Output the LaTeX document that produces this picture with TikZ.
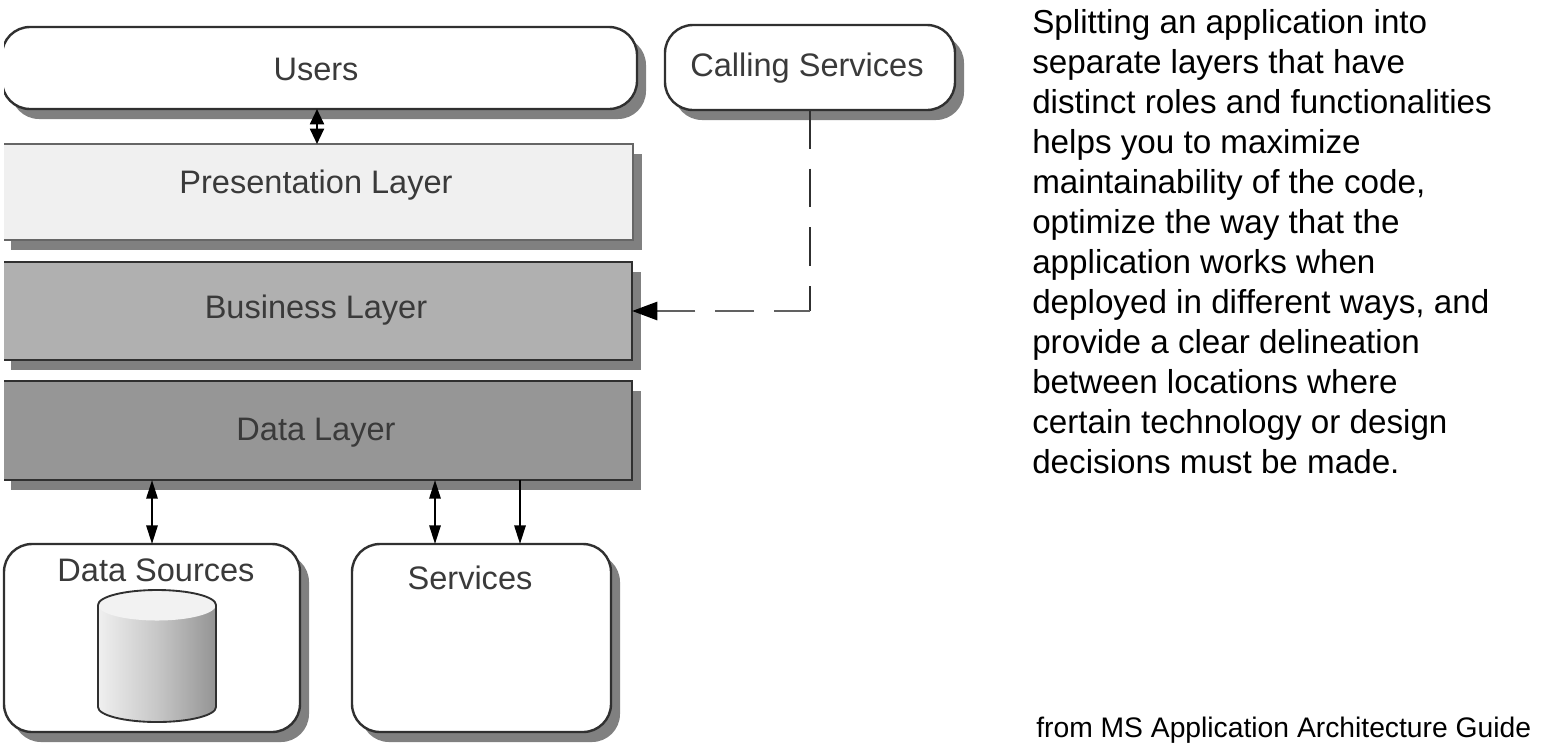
\documentclass[tikz,border=0pt]{standalone}
\usepackage{fontspec}
\setmainfont{Liberation Sans}
\usetikzlibrary{shadows,arrows.meta,calc}
\definecolor{txtgray}{HTML}{3A3A3A}
\definecolor{linedark}{HTML}{303030}
\definecolor{shadowgray}{HTML}{808080}
\tikzset{
  x=0.75pt,y=-0.75pt,
  base/.style={draw=linedark,line width=1.8pt,outer sep=0pt,inner sep=0pt,
    copy shadow={shadow xshift=6.75pt,shadow yshift=-7.5pt,fill=shadowgray,draw=none}},
  roundbox/.style={base,fill=white,rounded corners=21pt},
  layerbox/.style={base},
  label/.style={text=txtgray,font=\fontsize{24.4}{28}\selectfont,inner sep=0pt,anchor=center},
  link/.style={draw=black,line width=1.5pt,{Triangle[length=14pt,width=8.5pt]}-{Triangle[length=14pt,width=8.5pt]}},
  oneway/.style={draw=black,line width=1.5pt,-{Triangle[length=14pt,width=8.5pt]}},
  dashline/.style={draw=linedark,line width=1.8pt,dash pattern=on 29pt off 15pt},
  bodytext/.style={font=\fontsize{24.9}{30}\selectfont,align=left,anchor=north west,inner sep=0pt,text=black},
}
\newcommand{\boxat}[7]{\node[#2,minimum width=#5*0.75pt-#3*0.75pt,minimum height=#6*0.75pt-#4*0.75pt,#7] (#1) at ({(#3+#5)/2},{(#4+#6)/2}) {};}
\begin{document}
\begin{tikzpicture}
\useasboundingbox (0,0) rectangle (1549,744);
\fill[white] (0,0) rectangle (1549,744);
\begin{scope}
\clip (4,0) rectangle (1549,744);
\boxat{users}{roundbox}{2}{27}{637}{109}{}
\boxat{calling}{roundbox}{665}{25}{955}{110}{}
\boxat{pres}{layerbox}{2}{144}{633}{240}{fill=black!6,draw=black!60}
\boxat{bus}{layerbox}{2}{262}{632}{360}{fill=black!31}
\boxat{data}{layerbox}{2}{381}{632}{480}{fill=black!41}
\end{scope}
\boxat{srcs}{roundbox}{4}{544}{300}{732}{}
\boxat{svc}{roundbox}{352}{544}{611}{732}{}
% cylinder
\path[left color=black!6,right color=black!42,middle color=black!22]
  (98,605) -- (98,707) arc[start angle=180,end angle=0,x radius=59,y radius=15] -- (216,605) -- cycle;
\fill[black!5] (157,605) ellipse[x radius=59,y radius=15.5];
\draw[linedark,line width=1.4pt]
  (98,605) -- (98,707) arc[start angle=180,end angle=0,x radius=59,y radius=15] -- (216,605)
  arc[start angle=0,end angle=-180,x radius=59,y radius=15];
% labels
\node[label] (lusers) at (316,69) {Users};
\node[label] (lcalling) at (807,68) {Calling Services};
\node[label] (lpres) at (316,185) {Presentation Layer};
\node[label] (lbus) at (316,310) {Business Layer};
\node[label] (ldata) at (316,433) {Data Layer};
\node[label] (lsrcs) at (156,570) {Data Sources};
\node[label] (lsvc) at (470,578) {Services};
% connectors
\draw[link,{Triangle[length=11.5pt,width=10.5pt]}-{Triangle[length=11.5pt,width=10.5pt]}] (317,0 |- users.south) -- (317,0 |- pres.north);
\draw[link] (152,0 |- data.south) -- (152,0 |- srcs.north);
\draw[link] (435,0 |- data.south) -- (435,0 |- svc.north);
\draw[oneway] (520,0 |- data.south) -- (520,0 |- svc.north);
\coordinate (corner) at (810,311);
\draw[dashline] (corner |- calling.south) -- (corner);
\draw[dashline,draw=black!62,line width=2.2pt,dash pattern=on 29pt off 15pt,dash phase=2pt,-{Triangle[length=19pt,width=13.5pt,color=black]}] (corner) -- (bus.east |- corner);
% text
\node[bodytext] (body) at (1032,9) {Splitting an application into\\separate layers that have\\distinct roles and functionalities\\helps you to maximize\\maintainability of the code,\\optimize the way that the\\application works when\\deployed in different ways, and\\provide a clear delineation\\between locations where\\certain technology or design\\decisions must be made.};
\node[font=\fontsize{21.2}{26}\selectfont,anchor=base west,inner sep=0pt] (credit) at (1036,737) {from MS Application Architecture Guide};
\end{tikzpicture}
\end{document}
